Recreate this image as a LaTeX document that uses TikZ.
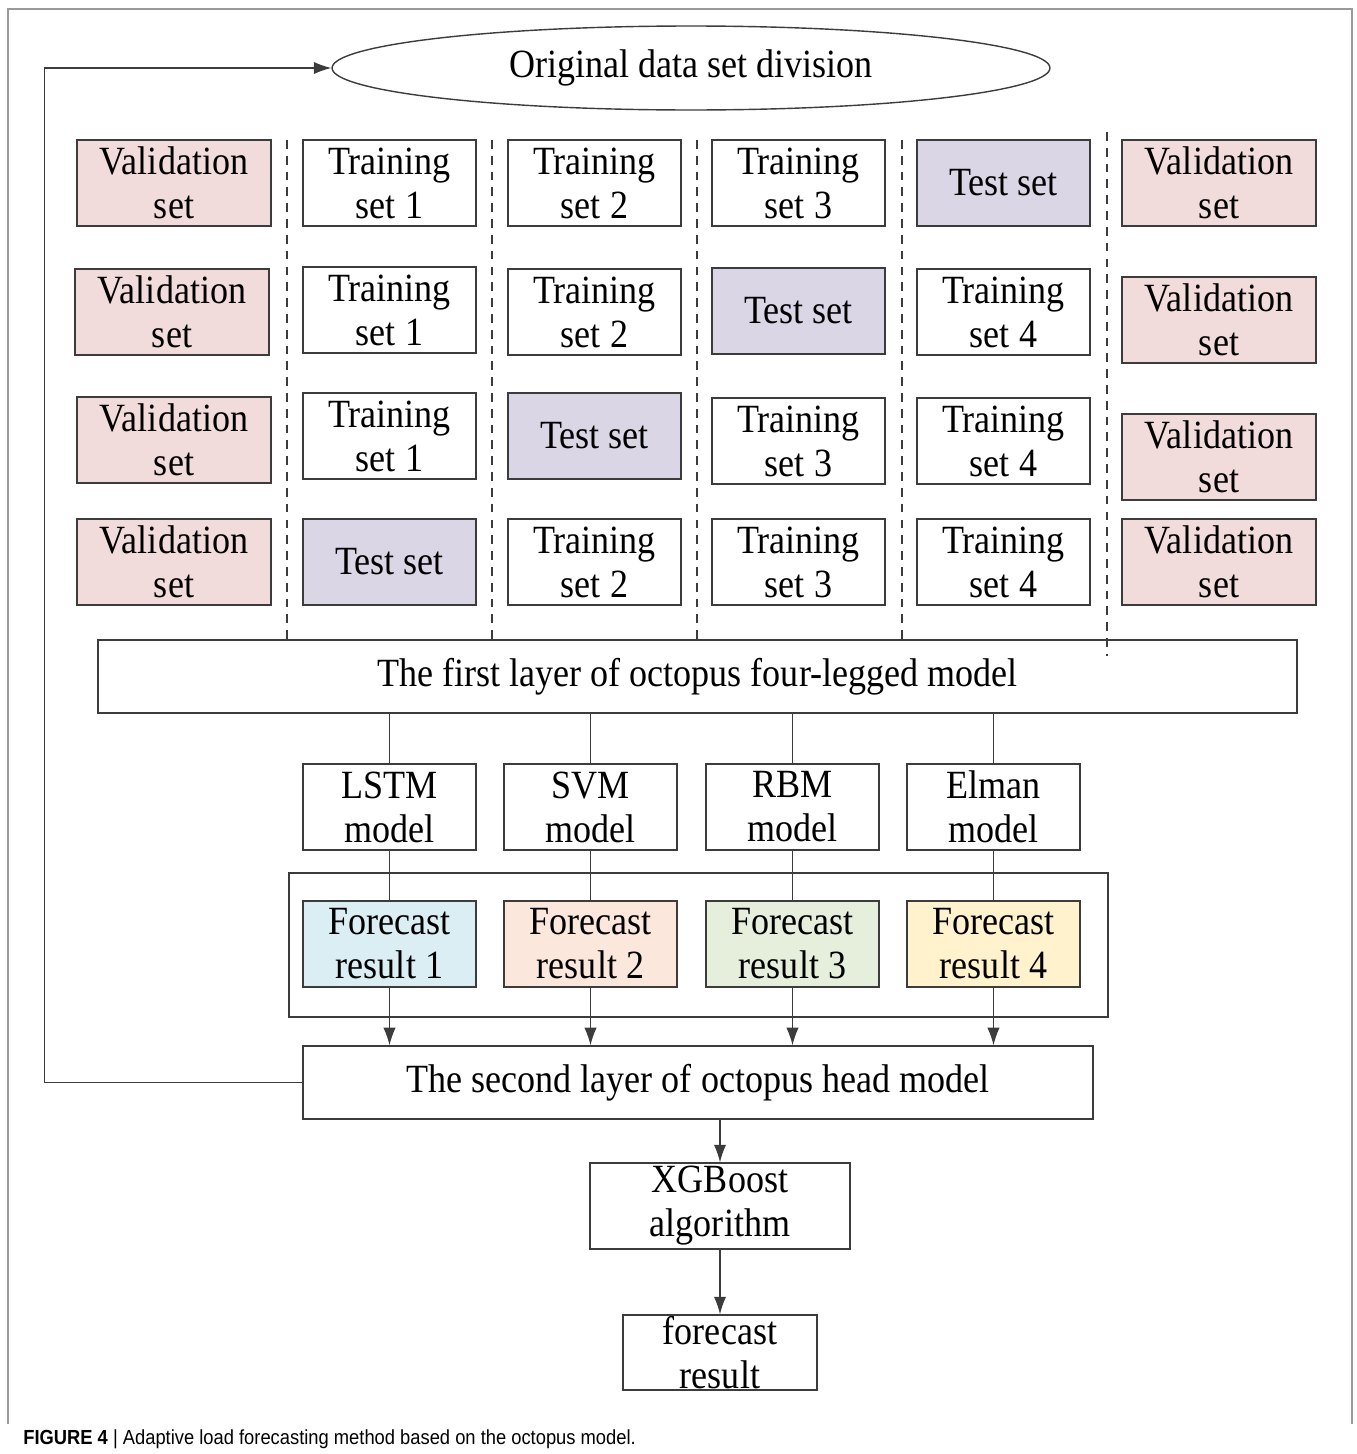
\documentclass[tikz,border=0pt]{standalone}
\usepackage{fontspec}
\setmainfont{Liberation Serif}[FakeStretch=0.9]
\newfontfamily\capfont{Liberation Sans}[FakeStretch=0.9]
\usepackage{tikz}
\usetikzlibrary{shapes,arrows,arrows.meta,positioning}
\usepackage{xcolor}
\definecolor{boxline}{HTML}{3C3C3C}
\definecolor{framegray}{HTML}{9A9A9A}
\definecolor{valpink}{HTML}{F2DCDB}
\definecolor{testlilac}{HTML}{DAD6E6}
\definecolor{fcblue}{HTML}{DAEEF3}
\definecolor{fcpeach}{HTML}{FBE7DC}
\definecolor{fcgreen}{HTML}{E6EEDC}
\definecolor{fcyellow}{HTML}{FFF2CC}

\begin{document}
\begin{tikzpicture}[x=0.02cm, y=-0.02cm,
    box/.style={draw=boxline, line width=0.8pt, rectangle, align=center, inner sep=0pt, minimum width=3.46cm, minimum height=1.72cm, font=\fontsize{22.8pt}{25pt}\selectfont},
    valbox/.style={box, fill=valpink, minimum width=3.88cm},
    testbox/.style={box, fill=testlilac},
    sep/.style={draw=boxline, line width=0.7pt, dash pattern=on 5pt off 4pt},
    link/.style={draw=boxline, line width=0.7pt},
    arr/.style={link, -{Latex[length=10pt,width=7pt]}}]
    \useasboundingbox (0,0) rectangle (1356,1454);
    \draw[framegray, line width=0.6pt] (8,1424) -- (8,9) -- (1352,9) -- (1352,1424);

    % data set division
    \node[draw=boxline, line width=0.8pt, ellipse, inner sep=0pt, minimum width=14.36cm, minimum height=1.68cm, font=\fontsize{22.8pt}{25pt}\selectfont] (orig) at (691,68) {Original data set division};

    % row 1
    \node[valbox] (v1a) at (174,183) {Validation\\set};
    \node[box] (t1a) at (389.5,183) {Training\\set 1};
    \node[box] (t2a) at (594.5,183) {Training\\set 2};
    \node[box] (t3a) at (798.5,183) {Training\\set 3};
    \node[testbox] (testa) at (1003.5,183) {Test set};
    \node[valbox] (v2a) at (1219,183) {Validation\\set};

    % row 2
    \node[valbox] (v1b) at (172,312) {Validation\\set};
    \node[box] (t1b) at (389.5,310) {Training\\set 1};
    \node[box] (t2b) at (594.5,312) {Training\\set 2};
    \node[testbox] (testb) at (798.5,311) {Test set};
    \node[box] (t4b) at (1003.5,312) {Training\\set 4};
    \node[valbox] (v2b) at (1219,320) {Validation\\set};

    % row 3
    \node[valbox] (v1c) at (174,440) {Validation\\set};
    \node[box] (t1c) at (389.5,436) {Training\\set 1};
    \node[testbox] (testc) at (594.5,436) {Test set};
    \node[box] (t3c) at (798.5,441) {Training\\set 3};
    \node[box] (t4c) at (1003.5,441) {Training\\set 4};
    \node[valbox] (v2c) at (1219,457) {Validation\\set};

    % row 4
    \node[valbox] (v1d) at (174,562) {Validation\\set};
    \node[testbox] (testd) at (389.5,562) {Test set};
    \node[box] (t2d) at (594.5,562) {Training\\set 2};
    \node[box] (t3d) at (798.5,562) {Training\\set 3};
    \node[box] (t4d) at (1003.5,562) {Training\\set 4};
    \node[valbox] (v2d) at (1219,562) {Validation\\set};

    % separators
    \draw[sep] (287,140) -- (287,640);
    \draw[sep] (492,140) -- (492,640);
    \draw[sep] (697,140) -- (697,640);
    \draw[sep] (902,140) -- (902,640);
    \draw[sep] (1107,132) -- (1107,656);

    % first layer
    \node[box, minimum width=23.98cm, minimum height=1.46cm] (first) at (697.5,676.5) {The first layer of octopus four-legged model};

    \node[box] (lstm) at (389.5,807) {LSTM\\model};
    \node[box] (svm) at (590.5,807) {SVM\\model};
    \node[box] (rbm) at (792.5,807) {RBM\\model};
    \node[box] (elman) at (993.5,807) {Elman\\model};

    \draw[link] (lstm.north |- first.south) -- (lstm.north);
    \draw[link] (svm.north |- first.south) -- (svm.north);
    \draw[link] (rbm.north |- first.south) -- (rbm.north);
    \draw[link] (elman.north |- first.south) -- (elman.north);

    % forecast results
    \node[draw=boxline, line width=0.8pt, minimum width=16.38cm, minimum height=2.88cm, inner sep=0pt] (group) at (698.5,945) {};
    \node[box, fill=fcblue] (fc1) at (389.5,944) {Forecast\\result 1};
    \node[box, fill=fcpeach] (fc2) at (590.5,944) {Forecast\\result 2};
    \node[box, fill=fcgreen] (fc3) at (792.5,944) {Forecast\\result 3};
    \node[box, fill=fcyellow] (fc4) at (993.5,944) {Forecast\\result 4};

    \draw[link] (lstm) -- (fc1);
    \draw[link] (svm) -- (fc2);
    \draw[link] (rbm) -- (fc3);
    \draw[link] (elman) -- (fc4);

    % second layer
    \node[box, minimum width=15.8cm, minimum height=1.46cm] (second) at (698,1082.5) {The second layer of octopus head model};

    \draw[arr] (fc1.south) -- (fc1.south |- second.north);
    \draw[arr] (fc2.south) -- (fc2.south |- second.north);
    \draw[arr] (fc3.south) -- (fc3.south |- second.north);
    \draw[arr] (fc4.south) -- (fc4.south |- second.north);

    \node[box, minimum width=5.2cm] (xgb) at (720,1206) {XGBoost\\algorithm};
    \node[box, minimum width=3.88cm, minimum height=1.5cm] (result) at (720,1352.5) {forecast\\result};

    \draw[arr] (second.south -| xgb.north) -- (xgb.north);
    \draw[arr] (xgb) -- (result);

    % feedback
    \draw[arr] (second.west) -- ++(-258,0) |- (orig.west);

    \node[anchor=west, inner sep=0pt, font=\capfont\fontsize{11.6pt}{13pt}\selectfont] (caption) at (23,1439) {\textbf{FIGURE 4} | Adaptive load forecasting method based on the octopus model.};
\end{tikzpicture}
\end{document}
